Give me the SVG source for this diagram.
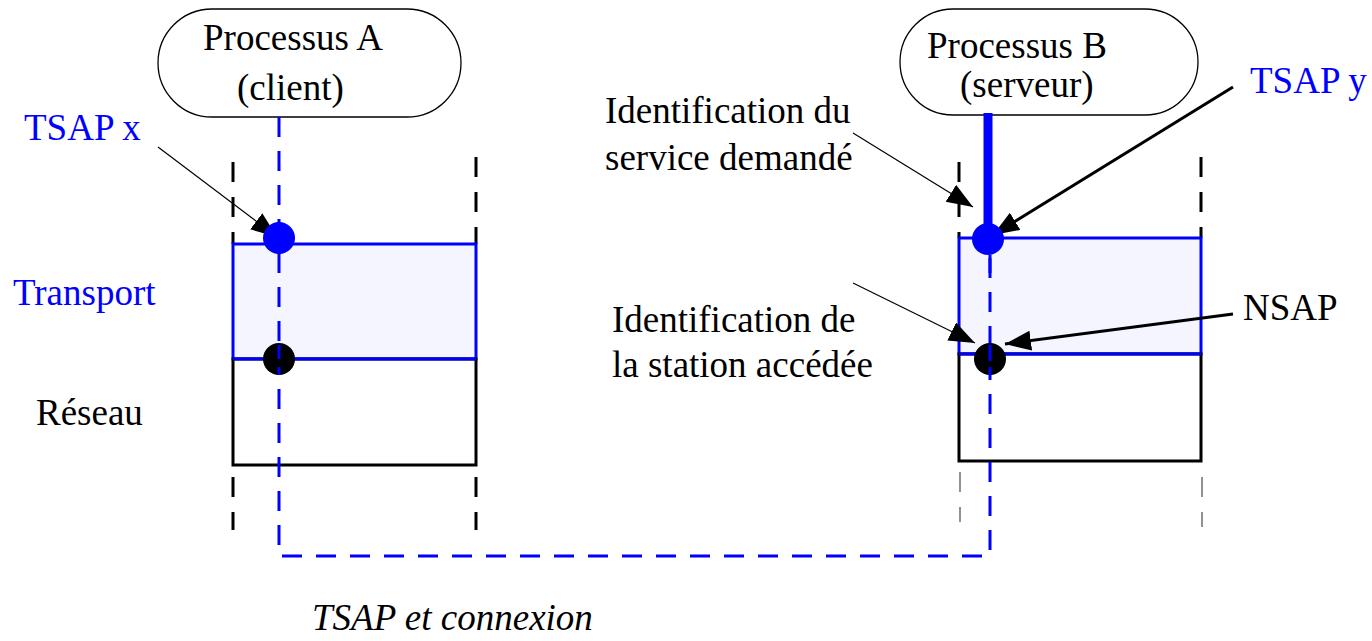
<svg xmlns="http://www.w3.org/2000/svg" width="1372" height="641" viewBox="0 0 1372 641">
  <style>
    text { font-family: "Liberation Serif", "Times New Roman", serif; font-size: 37px; fill: #000; }
    .blue { fill: #0000ff; }
    .pill { fill: #fff; stroke: #000; stroke-width: 1.3; }
    .transport { fill: #f5f5ff; stroke: #0000ff; stroke-width: 3; }
    .reseau { fill: #fff; stroke: #000; stroke-width: 3; }
    .bound { stroke: #000; stroke-width: 3; stroke-dasharray: 20 15; fill: none; }
    .bound-gray { stroke: #777; stroke-width: 1.6; stroke-dasharray: 20 15; fill: none; }
    .conn { stroke: #0000ff; stroke-width: 3; stroke-dasharray: 20 14; fill: none; }
    .thin { stroke: #000; stroke-width: 1.2; fill: none; marker-end: url(#head); }
    .thick { stroke: #000; stroke-width: 3; fill: none; marker-end: url(#head); }
  </style>
  <defs>
    <marker id="head" markerUnits="userSpaceOnUse" markerWidth="28" markerHeight="22" refX="26" refY="10" orient="auto">
      <path d="M0,0 L26,10 L0,20 z" fill="#000"/>
    </marker>
  </defs>

  <rect width="1372" height="641" fill="#fff"/>

  <!-- layer boundaries (dashed) -->
  <g id="boundaries">
    <line class="bound" x1="233" y1="162" x2="233" y2="244"/>
    <line class="bound" x1="476" y1="157" x2="476" y2="244"/>
    <line class="bound" x1="233" y1="477" x2="233" y2="530"/>
    <line class="bound" x1="476" y1="477" x2="476" y2="530"/>
    <line class="bound" x1="959" y1="162" x2="959" y2="238"/>
    <line class="bound" x1="1201" y1="157" x2="1201" y2="238"/>
    <line class="bound-gray" x1="960" y1="472" x2="960" y2="522"/>
    <line class="bound-gray" x1="1202" y1="477" x2="1202" y2="527"/>
  </g>

  <!-- station A -->
  <g id="stack-a">
    <rect class="transport" x="233" y="244" width="243" height="115"/>
    <rect class="reseau" x="233" y="359" width="243" height="106"/>
    <line x1="233" y1="359" x2="476" y2="359" stroke="#0000ff" stroke-width="3"/>
  </g>

  <!-- station B -->
  <g id="stack-b">
    <rect class="transport" x="959" y="238" width="242" height="116"/>
    <rect class="reseau" x="959" y="354" width="242" height="107"/>
    <line x1="959" y1="354" x2="1201" y2="354" stroke="#0000ff" stroke-width="3"/>
  </g>

  <!-- process A -->
  <g id="process-a">
    <rect class="pill" x="158" y="9" width="303" height="108" rx="54" ry="54"/>
    <text x="203" y="50">Processus A</text>
    <text x="237" y="100">(client)</text>
  </g>

  <!-- process B -->
  <g id="process-b">
    <rect class="pill" x="900" y="9" width="298" height="106" rx="53" ry="53"/>
    <text x="927" y="58">Processus B</text>
    <text x="960" y="97">(serveur)</text>
  </g>

  <!-- connectors -->
  <g id="connectors">
    <!-- transport connection path -->
    <polyline class="conn" points="279,117 279,556 990,556 990,250"/>
    <!-- server attachment to its TSAP -->
    <line x1="988" y1="113" x2="988" y2="240" stroke="#0000ff" stroke-width="9"/>
    <!-- annotation arrows -->
    <line class="thin" x1="158" y1="147" x2="277" y2="237"/>
    <line class="thin" x1="853" y1="133" x2="973" y2="207"/>
    <line class="thick" x1="1233" y1="87" x2="993" y2="235"/>
    <line class="thin" x1="853" y1="283" x2="975" y2="343"/>
    <line class="thick" x1="1233" y1="314" x2="1005" y2="344"/>
  </g>

  <!-- access points -->
  <g id="tsap-x"><circle cx="279" cy="238" r="16" fill="#0000ff"/></g>
  <g id="nsap-a"><circle cx="279" cy="359" r="16" fill="#000"/></g>
  <g id="tsap-y"><circle cx="988" cy="239" r="16" fill="#0000ff"/></g>
  <g id="nsap-b"><circle cx="990" cy="359" r="16" fill="#000"/></g>
  <!-- dashed path drawn over the dots -->
  <g id="connection-overlay">
    <line x1="279" y1="222" x2="279" y2="254" stroke="#0000ff" stroke-width="3" stroke-dasharray="12 10"/>
    <line x1="279" y1="345" x2="279" y2="375" stroke="#0000ff" stroke-width="3" stroke-dasharray="14 8"/>
    <line x1="990" y1="255" x2="990" y2="273" stroke="#0000ff" stroke-width="3"/>
    <line x1="990" y1="345" x2="990" y2="375" stroke="#0000ff" stroke-width="3" stroke-dasharray="16 6"/>
  </g>

  <!-- labels -->
  <g id="labels">
    <text class="blue" x="24" y="140">TSAP x</text>
    <text class="blue" x="13" y="305">Transport</text>
    <text x="36" y="425">Réseau</text>
    <text class="blue" x="1250" y="93">TSAP y</text>
    <text x="605" y="123">Identification du</text>
    <text x="605" y="170">service demandé</text>
    <text x="612" y="332">Identification de</text>
    <text x="612" y="377">la station accédée</text>
    <text x="1243" y="320">NSAP</text>
    <text x="312" y="630" font-style="italic">TSAP et connexion</text>
  </g>
</svg>
